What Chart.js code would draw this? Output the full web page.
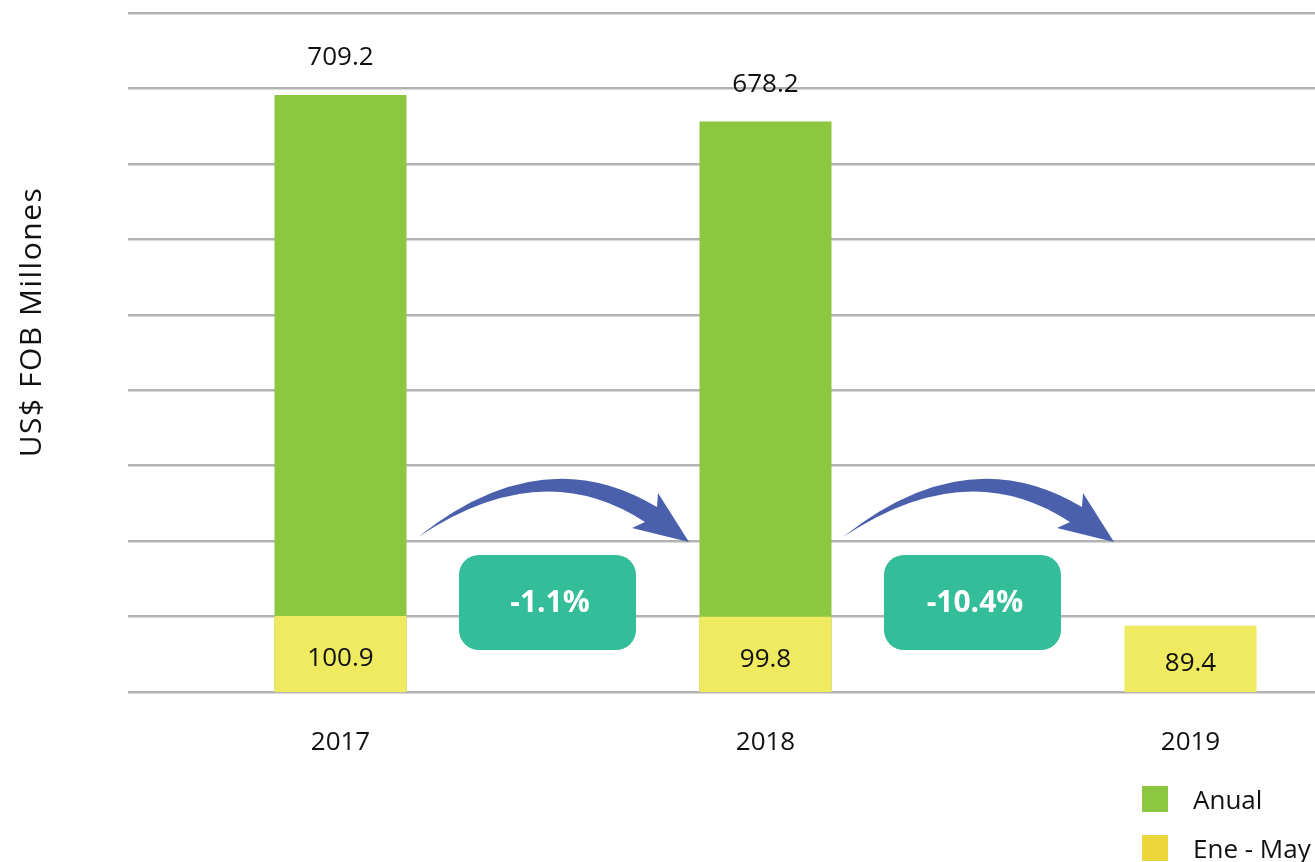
<!DOCTYPE html>
<html>
<head>
<meta charset="utf-8">
<script src="https://cdn.jsdelivr.net/npm/chart.js@4/dist/chart.umd.min.js"></script>
<style>
    html, body { margin: 0; padding: 0; background: #fff; overflow: hidden; }
    #wrap { position: relative; width: 1403px; height: 862px; }
    #legend { position: absolute; left: 1142px; top: 786px; font-family: 'Open Sans', sans-serif; font-size: 26px; color: #111; }
    .item { display: flex; align-items: center; height: 26px; margin-bottom: 23px; white-space: nowrap; }
    .sw { width: 26px; height: 26px; margin-right: 25px; }
</style>
</head>
<body>
<div id="wrap">
    <canvas id="chart" width="1403" height="862"></canvas>
    <div id="legend"></div>
</div>
<script>
const years = ['2017', '2018', '2019'];
const anual = [709.2, 678.2, null];
const eneMay = [100.9, 99.8, 89.4];
const changes = ['-1.1%', '-10.4%'];

const GREEN = '#8dc63f';
const YELLOW = '#efea5f';
const LEGEND_YELLOW = '#efd63c';

// legend (stacked vertically, bottom right)
const legendEl = document.getElementById('legend');
[['Anual', GREEN], ['Ene - May', LEGEND_YELLOW]].forEach(([name, color]) => {
    const row = document.createElement('div');
    row.className = 'item';
    row.innerHTML = `<span class="sw" style="background:${color}"></span><span>${name}</span>`;
    legendEl.appendChild(row);
});

function drawArrow(ctx, mx, ay) {
    ctx.beginPath();
    ctx.moveTo(mx - 135, ay);
    ctx.quadraticCurveTo(mx - 11, ay - 99, mx + 104, ay - 30);
    ctx.lineTo(mx + 105, ay - 44);
    ctx.lineTo(mx + 136, ay + 5);
    ctx.lineTo(mx + 79, ay - 9);
    ctx.lineTo(mx + 92, ay - 15);
    ctx.quadraticCurveTo(mx - 11, ay - 83, mx - 135, ay);
    ctx.closePath();
    ctx.fillStyle = '#4a60ad';
    ctx.fill();
}

const overlay = {
    id: 'overlay',
    afterDatasetsDraw(chart) {
        const ctx = chart.ctx;
        const x = chart.scales.x;
        const area = chart.chartArea;
        ctx.save();
        ctx.font = '400 26px "Open Sans"';
        ctx.fillStyle = '#111';
        ctx.textAlign = 'center';
        ctx.textBaseline = 'middle';
        chart.getDatasetMeta(0).data.forEach((bar, i) => {
            if (anual[i] == null) return;
            ctx.fillText(anual[i].toFixed(1), bar.x, bar.y - 37);
        });
        chart.getDatasetMeta(1).data.forEach((bar, i) => {
            ctx.fillText(eneMay[i].toFixed(1), bar.x, (bar.y + bar.base) / 2);
        });

        changes.forEach((txt, i) => {
            const mx = (x.getPixelForValue(i) + x.getPixelForValue(i + 1)) / 2;
            const by = area.bottom;
            drawArrow(ctx, mx, by - 155);
            ctx.beginPath();
            ctx.roundRect(mx - 94, by - 137, 177, 95, 20);
            ctx.fillStyle = '#33bd99';
            ctx.fill();
            ctx.font = '700 30px "Open Sans"';
            ctx.fillStyle = '#fff';
            ctx.fillText(txt, mx - 3, by - 89);
        });

        // y axis title
        ctx.translate(32, 322);
        ctx.rotate(-Math.PI / 2);
        ctx.font = '400 30px "Open Sans"';
        ctx.letterSpacing = '1.5px';
        ctx.fillStyle = '#111';
        ctx.fillText('US$ FOB Millones', 0, 0);
        ctx.restore();
    }
};

new Chart(document.getElementById('chart'), {
    type: 'bar',
    data: {
        labels: years,
        datasets: [
            {
                label: 'Anual',
                data: anual,
                backgroundColor: GREEN,
                order: 1,
                barPercentage: 1,
                categoryPercentage: 0.3106
            },
            {
                label: 'Ene - May',
                data: eneMay,
                backgroundColor: YELLOW,
                order: 0,
                barPercentage: 1,
                categoryPercentage: 0.3106
            }
        ]
    },
    options: {
        responsive: false,
        animation: false,
        layout: { padding: { top: 13, left: 0, right: 0, bottom: 0 } },
        plugins: {
            legend: { display: false },
            tooltip: { enabled: false }
        },
        scales: {
            x: {
                stacked: true,
                grid: { display: false },
                border: { display: false },
                ticks: {
                    color: '#111',
                    padding: 27,
                    font: { family: 'Open Sans', size: 26 }
                },
                afterFit(s) { s.height = 170; }
            },
            y: {
                min: 12,
                max: 805,
                border: { display: false },
                grid: { color: '#b3b3b3', lineWidth: 2.5, drawTicks: false },
                ticks: { display: false, count: 10 },
                afterFit(s) { s.width = 128; }
            }
        }
    },
    plugins: [overlay]
});
</script>
</body>
</html>
